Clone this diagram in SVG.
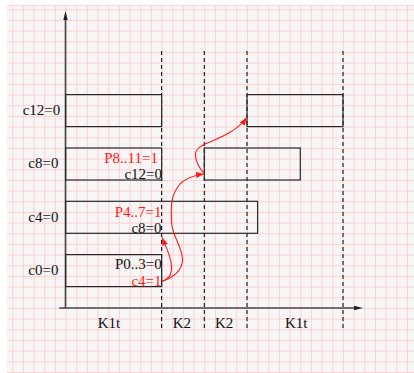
<svg xmlns="http://www.w3.org/2000/svg" width="414" height="373" viewBox="0 0 414 373">
<style>
.box{fill:none;stroke:#2a2a2a;stroke-width:1.2}
.dash{fill:none;stroke:#111;stroke-width:1.1;stroke-dasharray:4 3}
.axis{fill:none;stroke:#444;stroke-width:1.6}
.red{fill:none;stroke:#ff1a1a;stroke-width:1.1}
text{font-family:"Liberation Serif","Times New Roman",serif;font-size:15px;fill:#111}
.r{fill:#ff1a1a}
.e{text-anchor:end}
</style>
<defs>
<pattern id="grid" patternUnits="userSpaceOnUse" x="12.3" y="9.3" width="10.667" height="10.667">
<path d="M0,0 V10.667 M0,0 H10.667" fill="none" stroke="#ffcfcf" stroke-width="2"/>
</pattern>
<marker id="ah" viewBox="0 0 8 6" refX="8" refY="3" markerWidth="8" markerHeight="6" markerUnits="userSpaceOnUse" orient="auto">
<path d="M0,0 L8,3 L0,6 z" fill="#ff1a1a"/>
</marker>
</defs>
<rect x="0" y="0" width="414" height="373" fill="#ffffff"/>
<rect x="7" y="5" width="407" height="368" fill="#f6f6f6"/>
<rect x="7" y="5" width="407" height="368" fill="url(#grid)"/>
<line x1="7" y1="5.5" x2="414" y2="5.5" stroke="#ffd2d2" stroke-width="1"/>

<g id="axes">
<line class="axis" x1="65.5" y1="308" x2="65.5" y2="18"/>
<polygon points="65.5,11 63.3,20 67.7,20" fill="#222"/>
<line class="axis" x1="59.3" y1="308" x2="356" y2="308"/>
<polygon points="363,308 354,305.8 354,310.2" fill="#222"/>
</g>

<g id="dividers">
<line class="dash" x1="161.6" y1="51" x2="161.6" y2="329"/>
<line class="dash" x1="204.3" y1="51" x2="204.3" y2="329"/>
<line class="dash" x1="247" y1="51" x2="247" y2="329"/>
<line class="dash" x1="343" y1="51" x2="343" y2="329"/>
</g>

<g id="row-c12">
<rect class="box" x="65.6" y="94.6" width="96" height="32"/>
<rect class="box" x="247" y="94.6" width="96" height="32"/>
<text x="22.7" y="115">c12=0</text>
</g>

<g id="row-c8">
<rect class="box" x="65.6" y="148" width="96" height="32"/>
<rect class="box" x="204.3" y="148" width="96" height="32"/>
<text x="28.3" y="168.3">c8=0</text>
<text class="r e" x="158" y="162.7">P8..11=1</text>
<text class="e" x="162" y="179.3">c12=0</text>
</g>

<g id="row-c4">
<rect class="box" x="65.6" y="201.3" width="192" height="32"/>
<text x="28.3" y="221.7">c4=0</text>
<text class="r e" x="161.5" y="216.7">P4..7=1</text>
<text class="e" x="161.5" y="232.7">c8=0</text>
</g>

<g id="row-c0">
<rect class="box" x="65.6" y="254.6" width="96" height="32"/>
<text x="28.3" y="275">c0=0</text>
<text class="e" x="161.8" y="269.3">P0..3=0</text>
<text class="r e" x="161.5" y="286">c4=1</text>
</g>

<g id="phases">
<text x="97.7" y="328.3">K1t</text>
<text x="172.7" y="328.3">K2</text>
<text x="215" y="328.3">K2</text>
<text x="285" y="328.3">K1t</text>
</g>

<g id="connectors">
<path class="red" d="M161.7,281.5 C168,279 172,276 171.5,266 C171,256 166,247 162,237.5" marker-end="url(#ah)"/>
<path class="red" d="M161.7,281.5 C170,279 183,272 182.5,259 C182,246 172,236 171.5,222 C171,208 170,196 180,184 C187,177 196,175 204,174" marker-end="url(#ah)"/>
<path class="red" d="M204.3,173.5 C199,168 195,160 195.5,154 C196,148 202,145 210,142 C222,137 238,130 246.8,117.5" marker-end="url(#ah)"/>
</g>
</svg>
